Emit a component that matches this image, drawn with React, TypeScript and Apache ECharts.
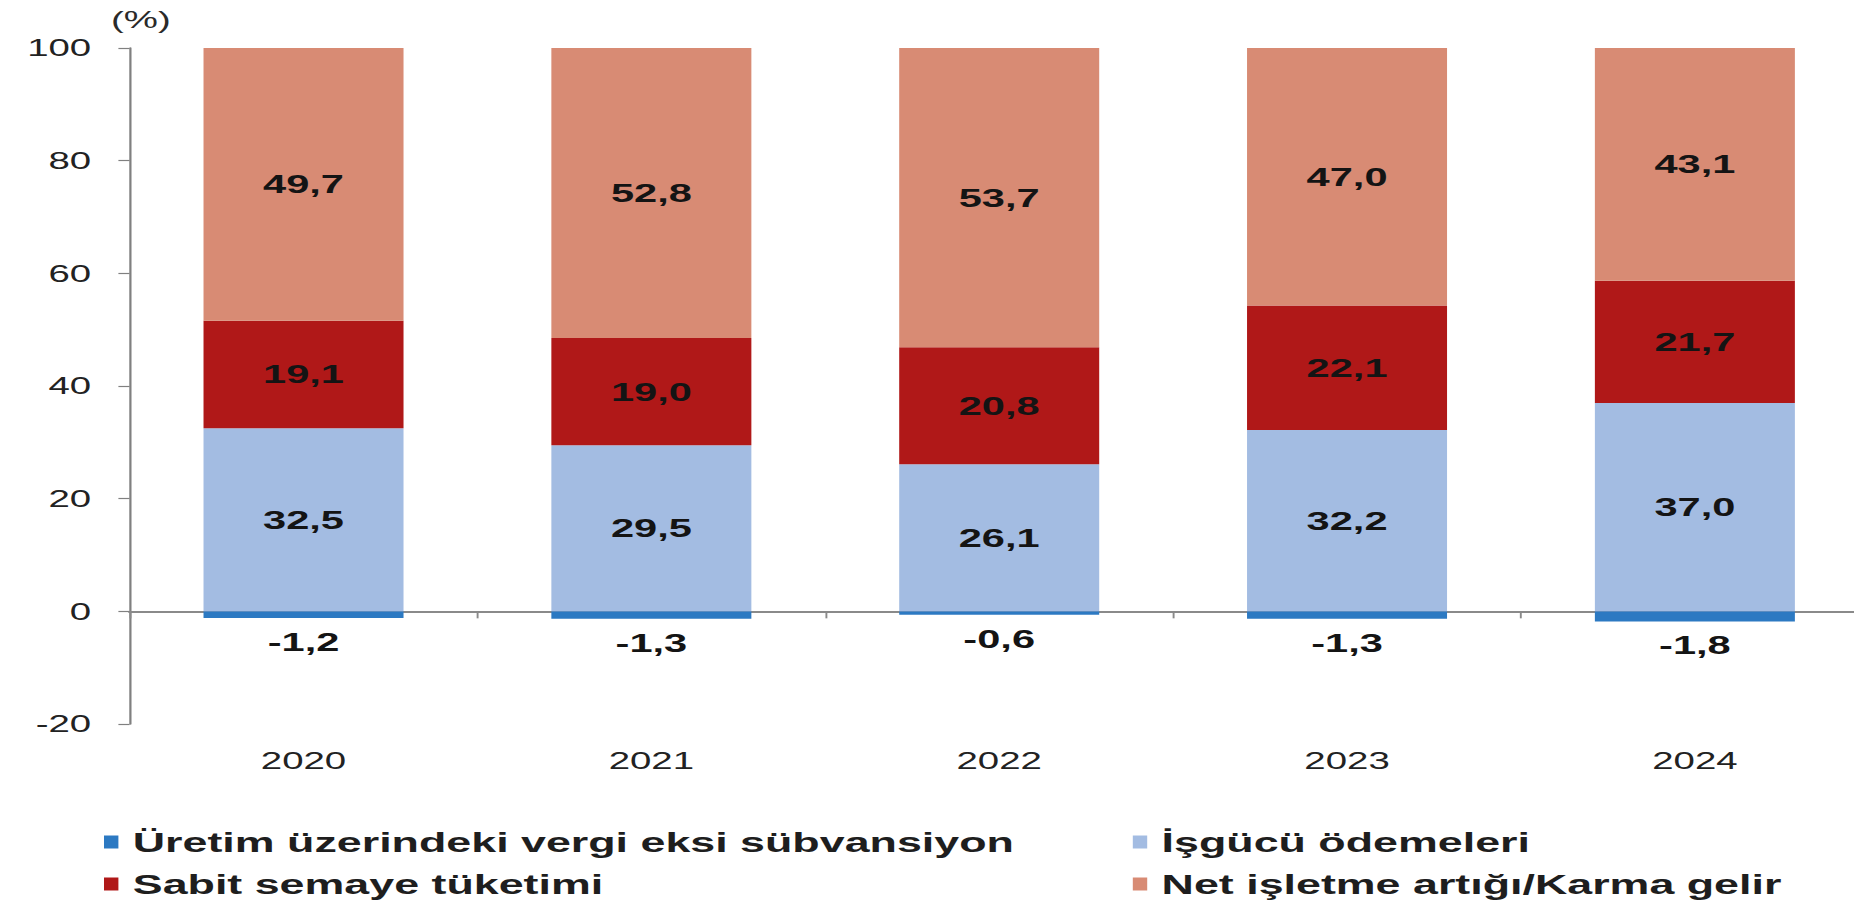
import React, { useEffect, useRef } from "react";
import * as echarts from "echarts";

const categories = ["2020", "2021", "2022", "2023", "2024"];
const seriesNames = [
  "Üretim üzerindeki vergi eksi sübvansiyon",
  "İşgücü ödemeleri",
  "Sabit semaye tüketimi",
  "Net işletme artığı/Karma gelir",
];
const uretimVergi = [-1.2, -1.3, -0.6, -1.3, -1.8];
const isgucuOdemeleri = [32.5, 29.5, 26.1, 32.2, 37.0];
const sabitSermaye = [19.1, 19.0, 20.8, 22.1, 21.7];
const netIsletme = [49.7, 52.8, 53.7, 47.0, 43.1];
const yMin = -20;
const yMax = 100;
const yInterval = 20;

const colors = ["#2C79C2", "#A3BCE2", "#B01818", "#D88B74"];
const STRETCH = 1.6;
const FULL_W = 1854;
const FULL_H = 901;
const INNER_W = 1200;
const FONT = "'Liberation Sans', Arial, sans-serif";

const fmt = (v: number) => v.toFixed(1).replace(".", ",");

export default function App() {
  const ref = useRef<HTMLDivElement>(null);
  useEffect(() => {
    if (!ref.current) return;
    const chart = echarts.init(ref.current, null, { renderer: "svg" });
    const labelStyle = {
      show: true,
      fontFamily: FONT,
      fontSize: 26,
      fontWeight: "bold" as const,
      color: "#141414",
      formatter: (p: any) => fmt(p.value),
    };
    const datasets = [uretimVergi, isgucuOdemeleri, sabitSermaye, netIsletme];
    const legendCommon = {
      orient: "vertical" as const,
      top: 828,
      padding: 0,
      itemWidth: 9,
      itemHeight: 13,
      itemGap: 14,
      icon: "rect",
      selectedMode: false,
      textStyle: {
        fontFamily: FONT,
        fontSize: 28,
        fontWeight: "bold" as const,
        color: "#1e1e1e",
        padding: [0, 0, 0, 4],
      },
    };
    chart.setOption({
      animation: false,
      backgroundColor: "#ffffff",
      textStyle: { fontFamily: FONT },
      grid: { left: 81, top: 48, width: 1087, height: 676, containLabel: false },
      legend: [
        { ...legendCommon, left: 65, data: [seriesNames[0], seriesNames[2]] },
        { ...legendCommon, left: 708, data: [seriesNames[1], seriesNames[3]] },
      ],
      xAxis: {
        type: "category",
        data: categories,
        axisLine: { onZero: true, lineStyle: { color: "#8a8a8a", width: 2 } },
        axisTick: { show: true, length: 7, alignWithLabel: false, lineStyle: { color: "#8a8a8a", width: 1.2 } },
        axisLabel: { margin: 25, fontSize: 24, color: "#222", fontFamily: FONT },
      },
      yAxis: {
        type: "value",
        min: yMin,
        max: yMax,
        interval: yInterval,
        name: "(%)",
        nameLocation: "end",
        nameGap: 16,
        nameTextStyle: { fontSize: 24, color: "#2a2a2a", fontFamily: FONT, padding: [0, 0, 0, 14] },
        splitLine: { show: false },
        axisLine: { show: true, lineStyle: { color: "#808080", width: 1.4 } },
        axisTick: { show: true, length: 7, lineStyle: { color: "#808080", width: 1.2 } },
        axisLabel: { margin: 24, fontSize: 24, color: "#222", fontFamily: FONT },
      },
      series: datasets.map((d, i) => ({
        name: seriesNames[i],
        type: "bar",
        stack: "total",
        data: d,
        barWidth: "57.5%",
        itemStyle: { color: colors[i] },
        label:
          i === 0
            ? { ...labelStyle, position: "bottom", distance: 11 }
            : { ...labelStyle, position: "inside" },
      })),
    });
    return () => chart.dispose();
  }, []);

  return (
    <div
      style={{
        position: "absolute",
        left: 0,
        top: 0,
        width: FULL_W,
        height: FULL_H,
        overflow: "hidden",
        background: "#fff",
      }}
    >
      <div
        ref={ref}
        style={{
          width: INNER_W,
          height: FULL_H,
          transform: `scaleX(${STRETCH})`,
          transformOrigin: "0 0",
        }}
      />
    </div>
  );
}
